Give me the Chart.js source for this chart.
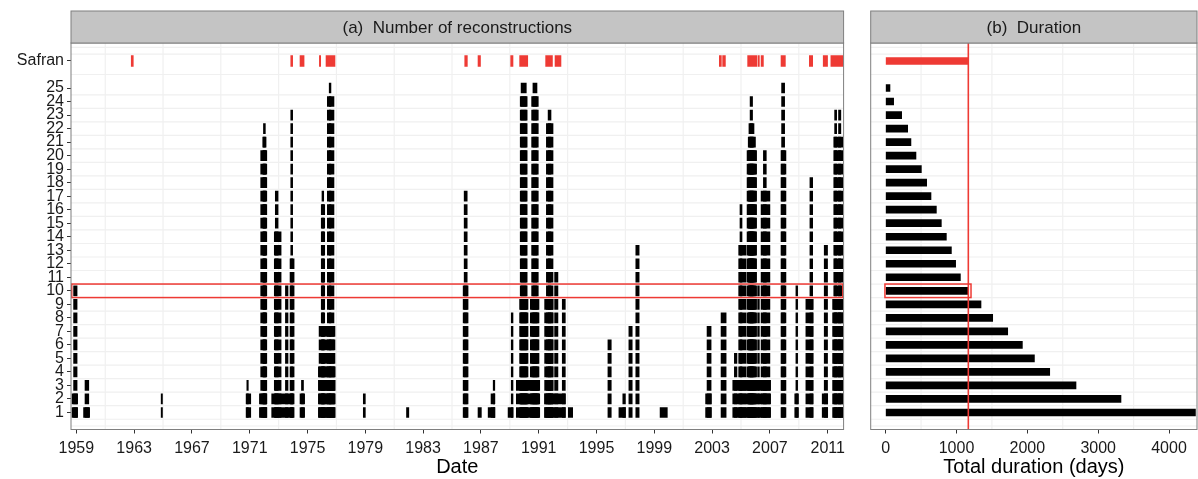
<!DOCTYPE html>
<html>
<head>
<meta charset="utf-8">
<script src="https://cdn.jsdelivr.net/npm/chart.js@4.4.1/dist/chart.umd.min.js"></script>
<style>
  html, body { margin: 0; padding: 0; background: #fff; }
  #wrap { position: relative; width: 1198px; height: 479px; }
  canvas { position: absolute; top: 0; }
</style>
</head>
<body>
<div id="wrap">
  <canvas id="recon" width="850" height="479" style="left:0"></canvas>
  <canvas id="dur" width="348" height="479" style="left:850px"></canvas>
</div>
<script>
// periods (decimal years) covered by at least 1..eventTop reconstructions
const eventStart = [1958.70, 1958.81, 1959.50, 1959.60, 1964.87, 1970.75, 1970.80, 1971.67, 1971.76, 1971.90,
  1971.95, 1972.52, 1972.70, 1972.77, 1973.47, 1973.79, 1973.84, 1974.48, 1974.58, 1975.75,
  1975.80, 1975.95, 1976.00, 1976.37, 1976.50, 1978.86, 1981.85, 1985.77, 1985.84, 1986.80,
  1987.50, 1987.70, 1987.85, 1988.88, 1989.10, 1989.45, 1989.68, 1989.72, 1989.78, 1990.42,
  1990.51, 1990.60, 1991.41, 1991.41, 1991.53, 1991.65, 1992.10, 1992.63, 1993.05, 1995.79,
  1996.55, 1996.82, 1997.24, 1997.72, 1999.40, 2002.55, 2002.65, 2003.62, 2004.43, 2004.54,
  2004.84, 2004.93, 2005.42, 2005.50, 2005.55, 2005.63, 2006.15, 2006.39, 2006.55, 2007.77,
  2007.81, 2008.72, 2008.80, 2009.49, 2009.77, 2010.62, 2010.76, 2011.34, 2011.42, 2011.74,
  2011.48, 2011.75];
const eventEnd = [1959.09, 1959.05, 1959.92, 1959.86, 1964.96, 1971.07, 1970.90, 1972.18, 1972.18, 1972.13,
  1972.08, 1974.02, 1973.17, 1972.96, 1973.65, 1974.07, 1973.97, 1974.80, 1974.72, 1976.90,
  1976.90, 1976.19, 1976.12, 1976.83, 1976.62, 1979.00, 1982.01, 1986.11, 1986.05, 1987.03,
  1987.96, 1987.96, 1987.96, 1989.22, 1989.22, 1991.07, 1990.26, 1990.20, 1990.14, 1991.02,
  1990.97, 1990.88, 1992.84, 1991.99, 1991.99, 1991.85, 1992.33, 1992.84, 1993.35, 1996.02,
  1997.00, 1997.00, 1997.47, 1997.95, 1999.90, 2002.95, 2002.93, 2003.97, 2007.05, 2004.72,
  2005.35, 2005.07, 2006.08, 2006.00, 2005.90, 2005.80, 2006.27, 2007.00, 2006.75, 2008.11,
  2008.02, 2008.98, 2008.92, 2010.00, 2009.96, 2011.00, 2010.99, 2012.08, 2011.71, 2012.04,
  2011.62, 2011.91];
const eventTop = [2, 10, 1, 3, 2, 2, 3, 2, 20, 21,
  22, 2, 14, 17, 10, 12, 23, 2, 3, 4,
  7, 16, 17, 24, 25, 2, 1, 10, 17, 1,
  1, 2, 3, 1, 8, 3, 9, 24, 25, 9,
  24, 25, 2, 9, 22, 23, 11, 9, 1, 6,
  1, 2, 7, 13, 1, 2, 7, 8, 3, 5,
  13, 16, 20, 21, 22, 24, 10, 17, 20, 20,
  25, 2, 10, 9, 18, 2, 13, 9, 21, 21,
  23, 23];

// Safran periods (decimal years)
const safranStart = [1962.80, 1973.84, 1974.48, 1975.82, 1976.28, 1985.88, 1986.80, 1989.06, 1989.68, 1991.48,
  1992.13, 2003.50, 2003.73, 2005.46, 2006.18, 2006.39, 2007.77, 2009.73, 2010.69, 2011.22];
const safranEnd = [1962.94, 1973.97, 1974.76, 1975.91, 1976.90, 1986.06, 1986.97, 1989.22, 1990.24, 1991.95,
  1992.54, 2003.64, 2003.92, 2006.10, 2006.27, 2006.55, 2008.07, 2009.96, 2010.99, 2012.08];

// total duration (days) per number of reconstructions
const levels = [1, 2, 3, 4, 5, 6, 7, 8, 9, 10, 11, 12, 13, 14, 15, 16, 17, 18, 19, 20, 21, 22, 23, 24, 25];
const durationDays = [4373, 3322, 2687, 2316, 2100, 1930, 1723, 1511, 1346, 1162,
  1055, 988, 928, 857, 786, 716, 640, 579, 504, 428, 357, 311, 226, 113, 61];
const safranDays = 1167;

const yearTicks = [1959, 1963, 1967, 1971, 1975, 1979, 1983, 1987, 1991, 1995, 1999, 2003, 2007, 2011];
const dayTicks = [0, 1000, 2000, 3000, 4000];
const SAFRAN_Y = 27;
const highlightLevel = 10;

const RED = '#EE3A34';
const FONT = '"Liberation Sans", Arial, Helvetica, sans-serif';
Chart.defaults.font.family = FONT;

const yTicks = levels.concat([SAFRAN_Y]);
const yGrid = [0].concat(levels.map(k => k - 0.5), [26, 27.5, 28]);

function panelDecor(cfg) {
  return {
    id: 'decor',
    beforeDatasetsDraw(chart) {
      const { ctx, chartArea: a, scales: { x, y } } = chart;
      ctx.save();
      ctx.strokeStyle = '#F0F0F0';
      ctx.lineWidth = 1.2;
      ctx.beginPath();
      cfg.xGrid.forEach(v => {
        const p = x.getPixelForValue(v);
        if (p > a.left && p < a.right) { ctx.moveTo(p, a.top); ctx.lineTo(p, a.bottom); }
      });
      yGrid.forEach(v => {
        const p = y.getPixelForValue(v);
        if (p > a.top && p < a.bottom) { ctx.moveTo(a.left, p); ctx.lineTo(a.right, p); }
      });
      ctx.stroke();
      ctx.restore();
    },
    afterDatasetsDraw(chart) {
      const { ctx, chartArea: a, scales: { x, y } } = chart;
      ctx.save();
      ctx.strokeStyle = RED;
      ctx.lineWidth = 1.5;
      const y0 = y.getPixelForValue(highlightLevel + 0.5);
      const y1 = y.getPixelForValue(highlightLevel - 0.5);
      if (cfg.box) {
        const x0 = cfg.box[0] === null ? a.left + 0.75 : x.getPixelForValue(cfg.box[0]);
        const x1 = cfg.box[1] === null ? a.right - 0.75 : x.getPixelForValue(cfg.box[1]);
        ctx.strokeRect(x0, y0, x1 - x0, y1 - y0);
      }
      if (cfg.vline !== undefined) {
        const p = x.getPixelForValue(cfg.vline);
        ctx.lineWidth = 1.6;
        ctx.beginPath();
        ctx.moveTo(p, a.top);
        ctx.lineTo(p, a.bottom);
        ctx.stroke();
      }
      ctx.restore();
    },
    afterDraw(chart) {
      const { ctx, chartArea: a } = chart;
      ctx.save();
      ctx.strokeStyle = '#7F7F7F';
      ctx.lineWidth = 1;
      ctx.strokeRect(a.left, a.top, a.right - a.left, a.bottom - a.top);
      ctx.fillStyle = '#C4C4C4';
      ctx.fillRect(a.left, 11, a.right - a.left, a.top - 11);
      ctx.strokeRect(a.left, 11, a.right - a.left, a.top - 11);
      ctx.fillStyle = '#1a1a1a';
      ctx.font = '17px ' + FONT;
      ctx.textAlign = 'center';
      ctx.textBaseline = 'middle';
      ctx.fillText(cfg.strip, (a.left + a.right) / 2, (11 + a.top) / 2 + 1);
      ctx.restore();
    }
  };
}

function yScale(width, showLabels) {
  return {
    type: 'linear', min: -0.26, max: 28.33, offset: false,
    afterBuildTicks: s => { s.ticks = yTicks.map(v => ({ value: v })); },
    afterFit: s => { s.width = width; },
    grid: { color: 'rgba(0,0,0,0)', tickColor: '#333', tickLength: 4, drawTicks: showLabels, drawOnChartArea: false, offset: false },
    border: { display: false },
    ticks: {
      display: showLabels, autoSkip: false, color: '#1a1a1a', padding: 3,
      font: { size: 16 },
      callback: v => (v === SAFRAN_Y ? 'Safran' : String(v))
    }
  };
}

function xScale(min, max, tickList, title) {
  return {
    type: 'linear', min: min, max: max, offset: false,
    afterBuildTicks: s => { s.ticks = tickList.map(v => ({ value: v })); },
    afterFit: s => { s.height = 49.5; },
    grid: { color: 'rgba(0,0,0,0)', tickColor: '#333', tickLength: 4, drawOnChartArea: false, offset: false },
    border: { display: false },
    ticks: { autoSkip: false, maxRotation: 0, color: '#1a1a1a', padding: 5, font: { size: 16 }, callback: v => String(v) },
    title: { display: true, text: title, color: '#000', font: { size: 20 }, padding: { top: 0, bottom: 0 } }
  };
}

// panel (a)
const reconBars = [];
eventStart.forEach((s, i) => {
  for (let k = 1; k <= eventTop[i]; k++) reconBars.push({ x: [s, eventEnd[i]], y: k });
});
const safranBars = safranStart.map((s, i) => ({ x: [s, safranEnd[i]], y: SAFRAN_Y }));

new Chart(document.getElementById('recon'), {
  type: 'bar',
  data: {
    datasets: [
      { data: reconBars, backgroundColor: '#000', borderWidth: 0, barThickness: 10, grouped: false },
      { data: safranBars, backgroundColor: RED, borderWidth: 0, barThickness: 11, grouped: false }
    ]
  },
  options: {
    indexAxis: 'y',
    responsive: false,
    animation: false,
    devicePixelRatio: 1,
    layout: { padding: { top: 43, right: 5, left: 0, bottom: 0 } },
    plugins: { legend: { display: false }, tooltip: { enabled: false } },
    scales: {
      x: xScale(1958.63, 2012.1, yearTicks, 'Date'),
      y: yScale(71, true)
    }
  },
  plugins: [panelDecor({
    strip: '(a)  Number of reconstructions',
    xGrid: yearTicks.map(v => v + 2),
    box: [null, null]
  })]
});

// panel (b)
const durBars = levels.map((k, i) => ({ x: [0, durationDays[i]], y: k }));

new Chart(document.getElementById('dur'), {
  type: 'bar',
  data: {
    datasets: [
      { data: durBars, backgroundColor: '#000', borderWidth: 0, barThickness: 7, grouped: false },
      { data: [{ x: [0, safranDays], y: SAFRAN_Y }], backgroundColor: RED, borderWidth: 0, barThickness: 7, grouped: false }
    ]
  },
  options: {
    indexAxis: 'y',
    responsive: false,
    animation: false,
    devicePixelRatio: 1,
    layout: { padding: { top: 43, right: 1, left: 0, bottom: 0 } },
    plugins: { legend: { display: false }, tooltip: { enabled: false } },
    scales: {
      x: xScale(-211, 4395, dayTicks, 'Total duration (days)'),
      y: yScale(20.7, false)
    }
  },
  plugins: [panelDecor({
    strip: '(b)  Duration',
    xGrid: dayTicks.map(v => v + 500),
    box: [-10, 1205],
    vline: safranDays
  })]
});
</script>
</body>
</html>
